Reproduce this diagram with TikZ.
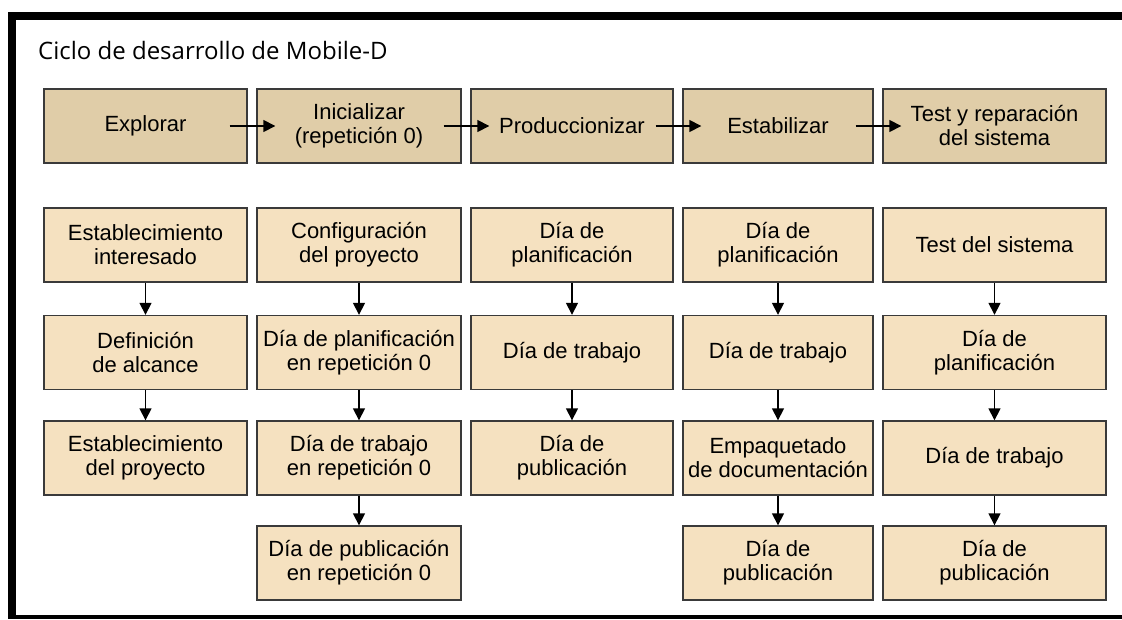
\documentclass[tikz,border=0pt]{standalone}
\usepackage{fontspec}
\setmainfont{Liberation Sans}
\newfontfamily\titlefont{Open Sans}
\usetikzlibrary{arrows.meta,calc}
\definecolor{phasefill}{HTML}{E0CDA8}
\definecolor{taskfill}{HTML}{F5E1C0}
\definecolor{edge}{HTML}{3A3A3A}
\begin{document}
\begin{tikzpicture}[x=1pt,y=-1pt,
  box/.style={draw=edge,line width=1.4pt,align=center,inner sep=0pt,
    minimum height=74pt,font=\fontsize{22}{24}\selectfont},
  phase/.style={box,fill=phasefill},
  task/.style={box,fill=taskfill},
  colA/.style={minimum width=203pt},
  colB/.style={minimum width=204pt},
  colC/.style={minimum width=202pt},
  colD/.style={minimum width=190pt},
  colE/.style={minimum width=223pt},
  arr/.style={line width=1.6pt,-{Triangle[length=12pt,width=12pt]}},
  frame/.style={fill=black,draw=none}]
\path[use as bounding box] (0,0) rectangle (1122,619);
% frame
\fill[frame] (8,12) rectangle (1122,20);
\fill[frame] (8,12) rectangle (16,619);
\fill[frame] (8,615) rectangle (1122,619);
% title
\node[anchor=base west,inner sep=0pt,font=\titlefont\fontsize{24}{28}\selectfont] (title) at (38,59) {Ciclo de desarrollo de Mobile-D};
% phases
\node[phase,colA] (p1) at (145.5,126) {Explorar};
\node[phase,colB] (p2) at (359,126) {Inicializar\\(repetición 0)};
\node[phase,colC] (p3) at (572,126) {Produccionizar};
\node[phase,colD] (p4) at (778,126) {Estabilizar};
\node[phase,colE] (p5) at (994.5,126) {Test y reparación\\del sistema};
\foreach \a/\b in {p1/p2,p2/p3,p3/p4,p4/p5}
  \draw[arr] ($(\a.east)+(-18,0)$) -- ($(\b.west)+(19,0)$);
% column 1
\node[task,colA] (a1) at (145.5,245) {Establecimiento\\interesado};
\node[task,colA] (a2) at (145.5,352.5) {Definición\\de alcance};
\node[task,colA] (a3) at (145.5,458) {Establecimiento\\del proyecto};
% column 2
\node[task,colB] (b1) at (359,245) {Configuración\\del proyecto};
\node[task,colB] (b2) at (359,352.5) {Día de planificación\\en repetición 0};
\node[task,colB] (b3) at (359,458) {Día de trabajo\\en repetición 0};
\node[task,colB] (b4) at (359,563) {Día de publicación\\en repetición 0};
% column 3
\node[task,colC] (c1) at (572,245) {Día de\\planificación};
\node[task,colC] (c2) at (572,352.5) {Día de trabajo};
\node[task,colC] (c3) at (572,458) {Día de\\publicación};
% column 4
\node[task,colD] (d1) at (778,245) {Día de\\planificación};
\node[task,colD] (d2) at (778,352.5) {Día de trabajo};
\node[task,colD] (d3) at (778,458) {Empaquetado\\de documentación};
\node[task,colD] (d4) at (778,563) {Día de\\publicación};
% column 5
\node[task,colE] (e1) at (994.5,245) {Test del sistema};
\node[task,colE] (e2) at (994.5,352.5) {Día de\\planificación};
\node[task,colE] (e3) at (994.5,458) {Día de trabajo};
\node[task,colE] (e4) at (994.5,563) {Día de\\publicación};
% vertical arrows
\foreach \a/\b in {a1/a2,a2/a3,b1/b2,b2/b3,b3/b4,c1/c2,c2/c3,d1/d2,d2/d3,d3/d4,e1/e2,e2/e3,e3/e4}
  \draw[arr] (\a.south) -- (\b.north);
\end{tikzpicture}
\end{document}
